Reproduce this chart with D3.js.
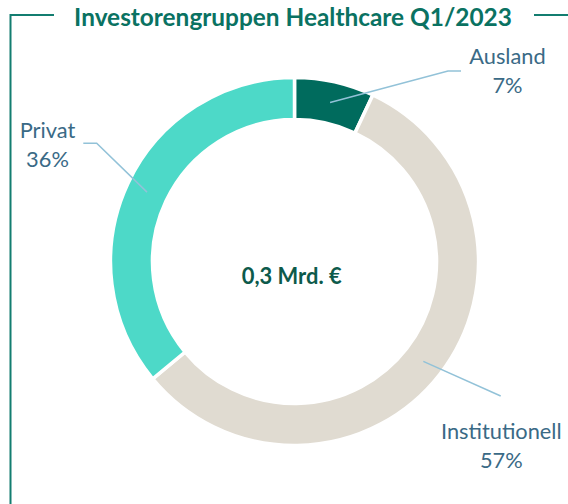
<!DOCTYPE html>
<html><head><meta charset="utf-8">
<script src="https://cdn.jsdelivr.net/npm/d3@7"></script>
<style>html,body{margin:0;padding:0;background:#fff;}svg{display:block;font-family:Lato,"Open Sans",sans-serif;}</style>
</head><body>
<svg id="c" width="568" height="504"></svg>
<script>
const title = "Investorengruppen Healthcare Q1/2023";
const centerLabel = "0,3 Mrd. €";
const categories = ["Ausland", "Institutionell", "Privat"];
const shares = [7, 57, 36];
const colors = ["#006b5d", "#e0dbd1", "#4dd9c8"];

const W = 568, H = 504;
const cx = 294.5, cy = 261.5, rOuter = 184, rInner = 142;
const svg = d3.select("#c");

// frame
const frameColor = "#137d70";
svg.append("path")
  .attr("d", `M54,15 H10.5 V${H}`)
  .attr("fill", "none").attr("stroke", frameColor).attr("stroke-width", 2);
svg.append("line").attr("x1", 534).attr("x2", W).attr("y1", 15).attr("y2", 15)
  .attr("stroke", frameColor).attr("stroke-width", 2);

function fit(sel, target) {
  const base = parseFloat(sel.attr("font-size"));
  const w = sel.node().getComputedTextLength();
  sel.attr("font-size", (base * target / w).toFixed(2));
}

const t = svg.append("text").text(title)
  .attr("x", 293).attr("y", 26).attr("text-anchor", "middle")
  .attr("font-weight", 700).attr("font-size", 20).attr("fill", "#0a7262");
fit(t, 438);

const g = svg.append("g").attr("transform", `translate(${cx},${cy})`);
const pie = d3.pie().sort(null).value(d => d.v);
const data = categories.map((c, i) => ({ c, v: shares[i], col: colors[i] }));
const arcs = pie(data);
const arc = d3.arc().innerRadius(rInner).outerRadius(rOuter);

g.selectAll("path.slice").data(arcs).join("path")
  .attr("class", "slice")
  .attr("d", arc)
  .attr("fill", d => d.data.col)
  .attr("stroke", "#fff").attr("stroke-width", 3.5).attr("stroke-linejoin", "miter");

// label layout (absolute page coords)
const labelLayout = {
  "Ausland":        { x: 507.5, y: 64,  w: 75,  pts: [[448, 71], [461, 71]] },
  "Institutionell": { x: 501.3, y: 439, w: 120.7, pts: [[500.7, 396]] },
  "Privat":         { x: 47.5,  y: 138, w: 55,  pts: [[96.7, 143.3], [83.3, 143.3]] }
};
const labelColor = "#3a6a86";
const lineColor = "#92c2d8";

// measure label font size from "Institutionell"
const probe = svg.append("text").text("Institutionell").attr("font-size", 20);
const fs = 20 * 120.7 / probe.node().getComputedTextLength();
probe.remove();

arcs.forEach(a => {
  const L = labelLayout[a.data.c];
  const c = arc.centroid(a);
  const p0 = [cx + c[0], cy + c[1]];
  const pts = [p0].concat(L.pts);
  svg.append("path")
    .attr("d", d3.line()(pts))
    .attr("fill", "none").attr("stroke", lineColor).attr("stroke-width", 1.5);
  const tx = svg.append("text").attr("text-anchor", "middle")
    .attr("fill", labelColor).attr("font-size", fs.toFixed(2));
  tx.append("tspan").attr("x", L.x).attr("y", L.y).text(a.data.c);
  tx.append("tspan").attr("x", L.x).attr("y", L.y + 29).text(a.data.v + "%");
});

const ct = svg.append("text").text(centerLabel)
  .attr("x", 291.7).attr("y", 284).attr("text-anchor", "middle")
  .attr("font-weight", 700).attr("font-size", 18).attr("fill", "#0d5a4b");
fit(ct, 100);
</script>
</body></html>
